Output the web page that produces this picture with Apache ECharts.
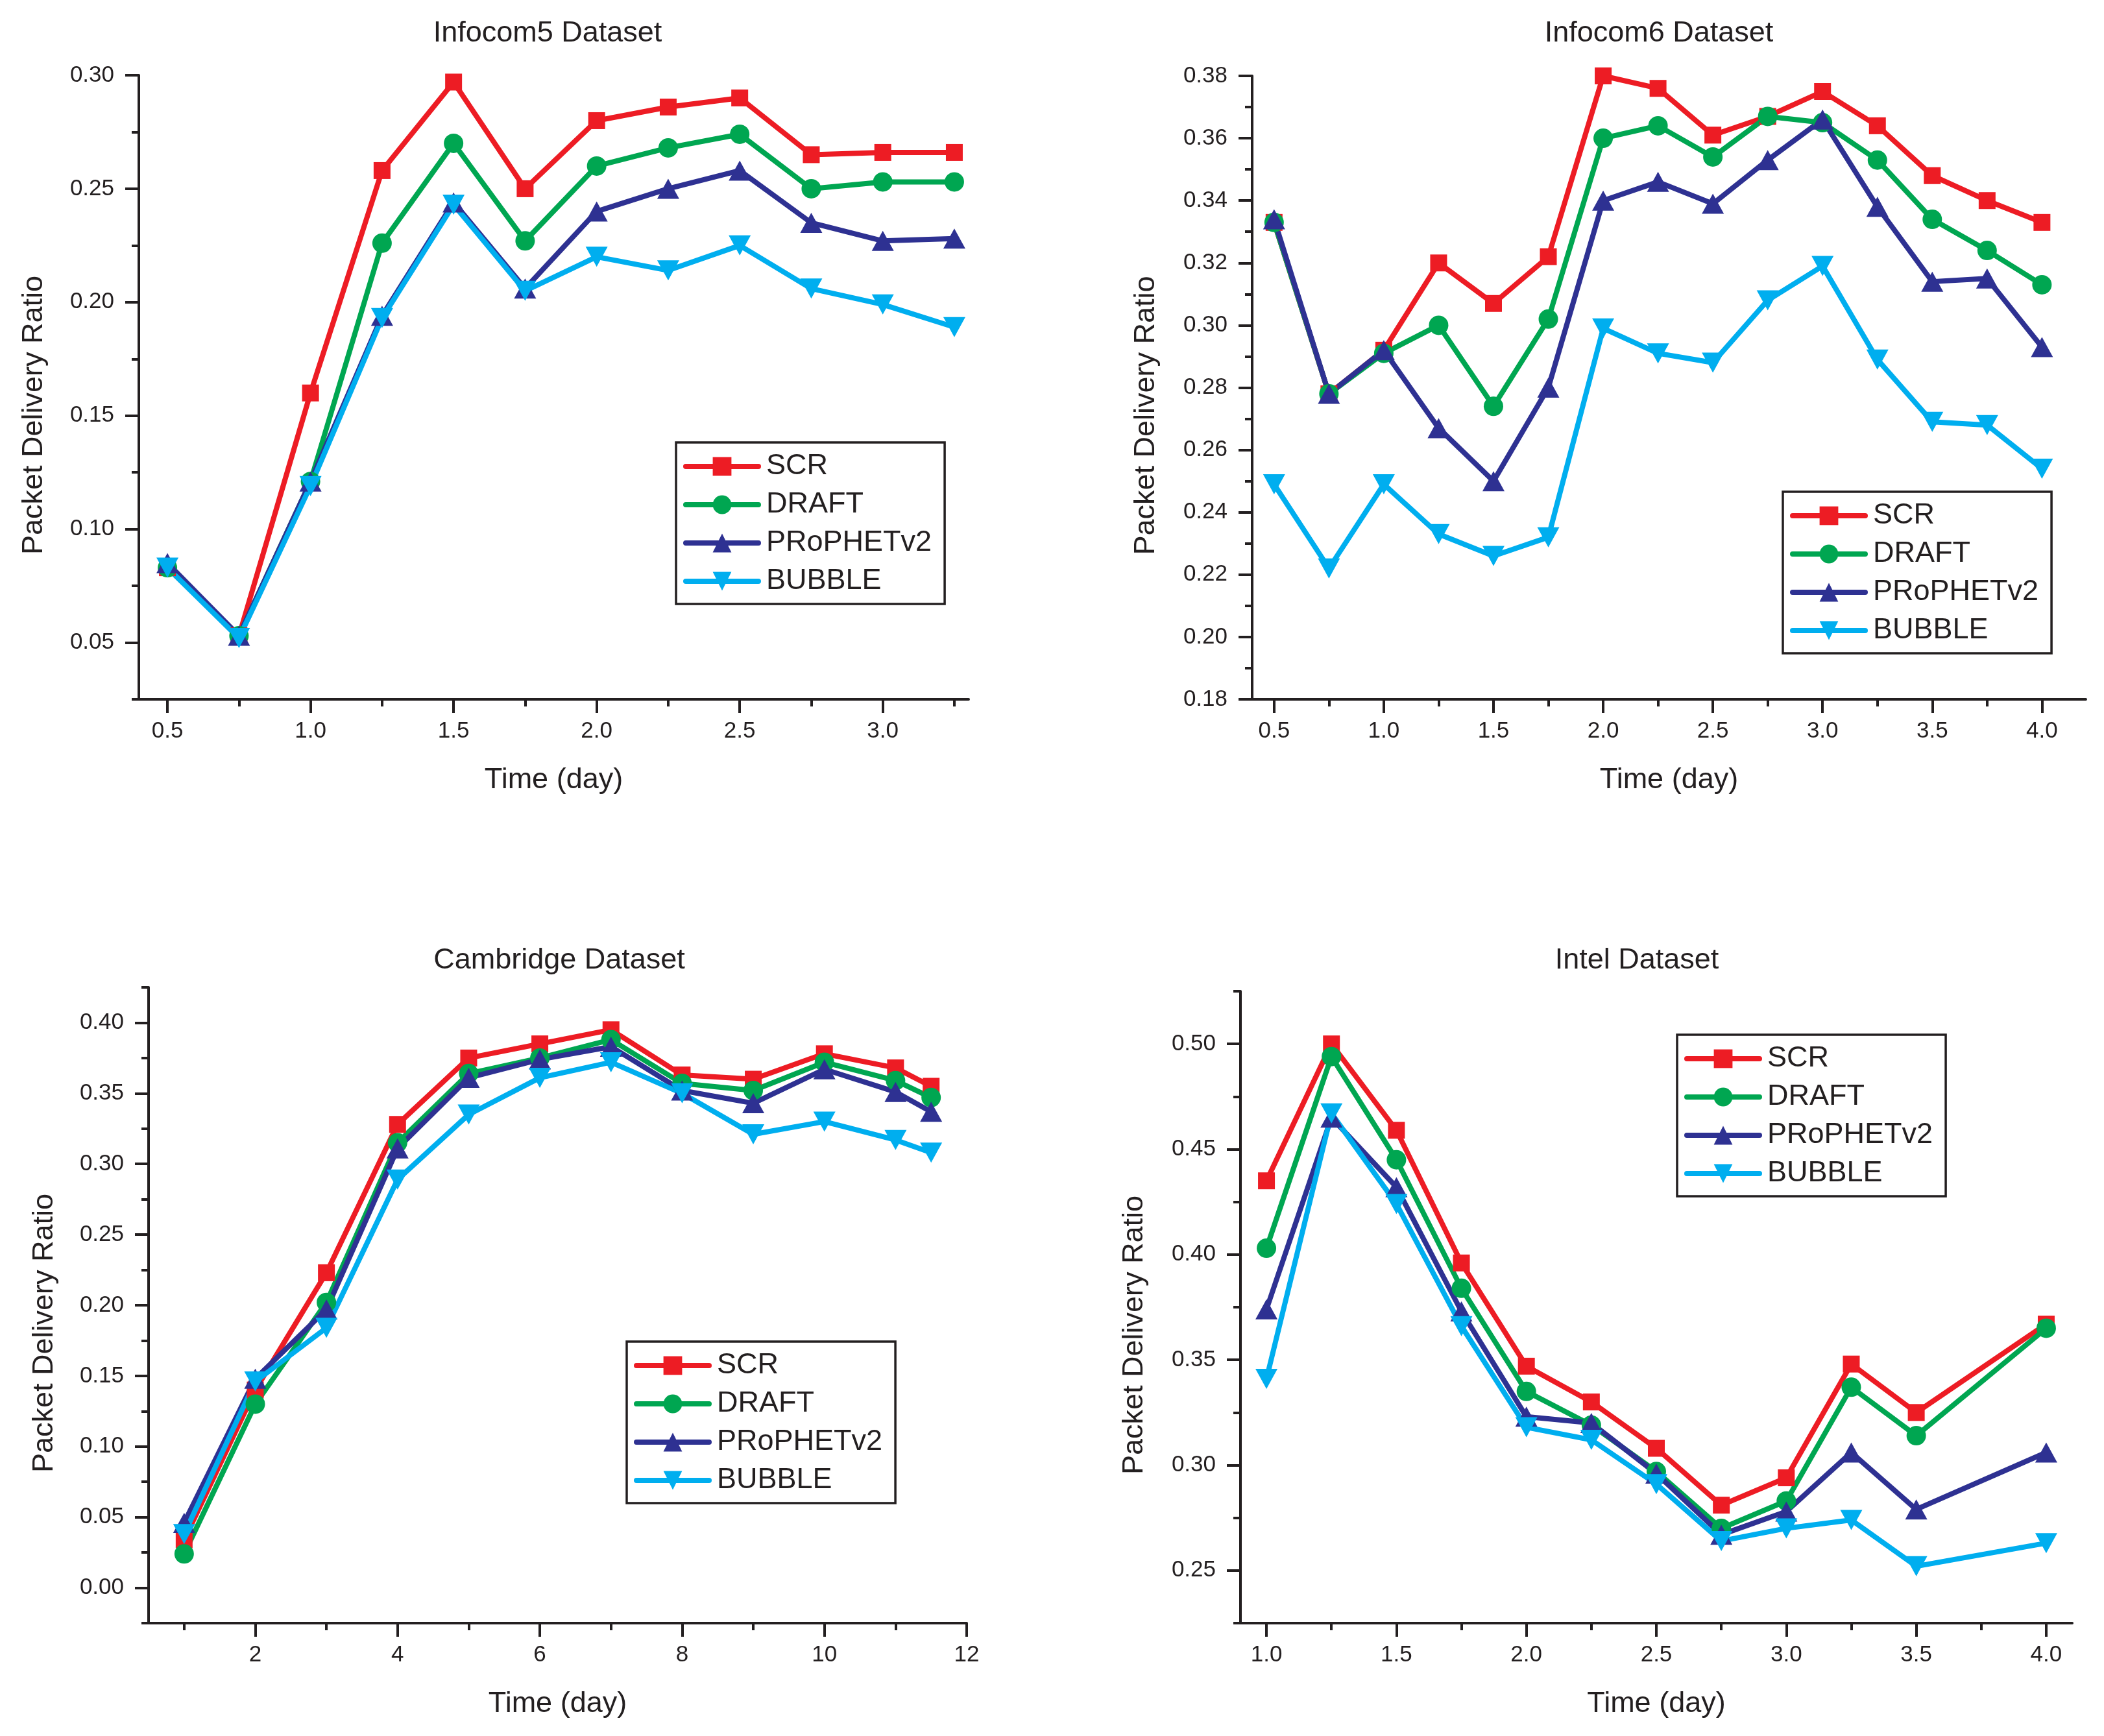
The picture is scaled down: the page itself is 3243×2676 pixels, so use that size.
<!DOCTYPE html>
<html><head><meta charset="utf-8">
<script src="https://cdn.jsdelivr.net/npm/echarts@6/dist/echarts.min.js"></script>
<style>html,body{margin:0;padding:0;background:#fff}#c{width:3243px;height:2676px}</style>
</head><body><div id="c"></div>
<script>
// ---------- data ----------
const seriesNames = ['SCR', 'DRAFT', 'PRoPHETv2', 'BUBBLE'];

// Infocom5
const xInfocom5 = [0.5, 0.75, 1.0, 1.25, 1.5, 1.75, 2.0, 2.25, 2.5, 2.75, 3.0, 3.25];
const scrInfocom5 = [0.083, 0.053, 0.160, 0.258, 0.297, 0.250, 0.280, 0.286, 0.290, 0.265, 0.266, 0.266];
const draftInfocom5 = [0.083, 0.053, 0.121, 0.226, 0.270, 0.227, 0.260, 0.268, 0.274, 0.250, 0.253, 0.253];
const prophetInfocom5 = [0.085, 0.053, 0.121, 0.194, 0.244, 0.206, 0.240, 0.250, 0.258, 0.235, 0.227, 0.228];
const bubbleInfocom5 = [0.083, 0.052, 0.119, 0.193, 0.243, 0.205, 0.220, 0.214, 0.225, 0.206, 0.199, 0.189];

// Infocom6
const xInfocom6 = [0.5, 0.75, 1.0, 1.25, 1.5, 1.75, 2.0, 2.25, 2.5, 2.75, 3.0, 3.25, 3.5, 3.75, 4.0];
const scrInfocom6 = [0.333, 0.278, 0.292, 0.320, 0.307, 0.322, 0.380, 0.376, 0.361, 0.367, 0.375, 0.364, 0.348, 0.340, 0.333];
const draftInfocom6 = [0.333, 0.278, 0.291, 0.300, 0.274, 0.302, 0.360, 0.364, 0.354, 0.367, 0.365, 0.353, 0.334, 0.324, 0.313];
const prophetInfocom6 = [0.334, 0.278, 0.292, 0.267, 0.250, 0.280, 0.340, 0.346, 0.339, 0.353, 0.366, 0.338, 0.314, 0.315, 0.293];
const bubbleInfocom6 = [0.249, 0.222, 0.249, 0.233, 0.226, 0.232, 0.299, 0.291, 0.288, 0.308, 0.319, 0.289, 0.269, 0.268, 0.254];

// Cambridge
const xCambridge = [1, 2, 3, 4, 5, 6, 7, 8, 9, 10, 11, 11.5];
const scrCambridge = [0.034, 0.140, 0.223, 0.328, 0.375, 0.385, 0.395, 0.363, 0.360, 0.378, 0.368, 0.355];
const draftCambridge = [0.024, 0.130, 0.202, 0.315, 0.364, 0.375, 0.388, 0.357, 0.352, 0.372, 0.359, 0.347];
const prophetCambridge = [0.046, 0.148, 0.197, 0.311, 0.361, 0.374, 0.383, 0.352, 0.343, 0.367, 0.351, 0.337];
const bubbleCambridge = [0.038, 0.146, 0.184, 0.289, 0.335, 0.361, 0.372, 0.350, 0.321, 0.330, 0.317, 0.308];

// Intel
const xIntel = [1.0, 1.25, 1.5, 1.75, 2.0, 2.25, 2.5, 2.75, 3.0, 3.25, 3.5, 4.0];
const scrIntel = [0.435, 0.500, 0.459, 0.396, 0.347, 0.330, 0.308, 0.281, 0.294, 0.348, 0.325, 0.367];
const draftIntel = [0.403, 0.494, 0.445, 0.384, 0.335, 0.319, 0.297, 0.270, 0.283, 0.337, 0.314, 0.365];
const prophetIntel = [0.374, 0.465, 0.432, 0.373, 0.323, 0.320, 0.296, 0.267, 0.278, 0.306, 0.279, 0.306];
const bubbleIntel = [0.341, 0.467, 0.424, 0.366, 0.318, 0.312, 0.291, 0.264, 0.270, 0.274, 0.252, 0.263];

// tick labels / tick positions
const xTicksInfocom5 = [0.5, 1.0, 1.5, 2.0, 2.5, 3.0];
const xMinorInfocom5 = [0.75, 1.25, 1.75, 2.25, 2.75, 3.25];
const yTicksInfocom5 = [0.05, 0.10, 0.15, 0.20, 0.25, 0.30];
const yMinorInfocom5 = [0.025, 0.075, 0.125, 0.175, 0.225, 0.275];

const xTicksInfocom6 = [0.5, 1.0, 1.5, 2.0, 2.5, 3.0, 3.5, 4.0];
const xMinorInfocom6 = [0.75, 1.25, 1.75, 2.25, 2.75, 3.25, 3.75];
const yTicksInfocom6 = [0.18, 0.20, 0.22, 0.24, 0.26, 0.28, 0.30, 0.32, 0.34, 0.36, 0.38];
const yMinorInfocom6 = [0.19, 0.21, 0.23, 0.25, 0.27, 0.29, 0.31, 0.33, 0.35, 0.37];

const xTicksCambridge = [2, 4, 6, 8, 10, 12];
const xMinorCambridge = [1, 3, 5, 7, 9, 11];
const yTicksCambridge = [0.00, 0.05, 0.10, 0.15, 0.20, 0.25, 0.30, 0.35, 0.40];
const yMinorCambridge = [-0.025, 0.025, 0.075, 0.125, 0.175, 0.225, 0.275, 0.325, 0.375, 0.425];

const xTicksIntel = [1.0, 1.5, 2.0, 2.5, 3.0, 3.5, 4.0];
const xMinorIntel = [1.25, 1.75, 2.25, 2.75, 3.25, 3.75];
const yTicksIntel = [0.25, 0.30, 0.35, 0.40, 0.45, 0.50];
const yMinorIntel = [0.225, 0.275, 0.325, 0.375, 0.425, 0.475, 0.525];

// ---------- layout & style ----------
const FONT = '"Liberation Sans", Arial, sans-serif';
const INK = '#231F20';
const styles = [
  { color: '#ED1C24', symbol: 'rect', size: 26, rotate: 0 },
  { color: '#00A651', symbol: 'circle', size: 30, rotate: 0 },
  { color: '#2E3192', symbol: 'triangle', size: [34, 31], rotate: 0 },
  { color: '#00AEEF', symbol: 'triangle', size: [34, 31], rotate: 180 }
];

const panels = [
  { title: 'Infocom5 Dataset', titleX: 844, titleY: 52,
    grid: { left: 214, top: 116, width: 1279, height: 962 },
    xMin: 0.4, xMax: 3.3, yMin: 0.025, yMax: 0.30,
    xT: xTicksInfocom5, xM: xMinorInfocom5, yT: yTicksInfocom5, yM: yMinorInfocom5, xDec: 1,
    x: xInfocom5, ys: [scrInfocom5, draftInfocom5, prophetInfocom5, bubbleInfocom5],
    legend: { left: 1042, top: 682 }, yGap: 139 },
  { title: 'Infocom6 Dataset', titleX: 2557, titleY: 52,
    grid: { left: 1930, top: 117, width: 1285, height: 961 },
    xMin: 0.4, xMax: 4.2, yMin: 0.18, yMax: 0.38,
    xT: xTicksInfocom6, xM: xMinorInfocom6, yT: yTicksInfocom6, yM: yMinorInfocom6, xDec: 1,
    x: xInfocom6, ys: [scrInfocom6, draftInfocom6, prophetInfocom6, bubbleInfocom6],
    legend: { left: 2748, top: 758 }, yGap: 141 },
  { title: 'Cambridge Dataset', titleX: 862, titleY: 1481,
    grid: { left: 229, top: 1522, width: 1261, height: 980 },
    xMin: 0.5, xMax: 12, yMin: -0.025, yMax: 0.425,
    xT: xTicksCambridge, xM: xMinorCambridge, yT: yTicksCambridge, yM: yMinorCambridge, xDec: 0,
    x: xCambridge, ys: [scrCambridge, draftCambridge, prophetCambridge, bubbleCambridge],
    legend: { left: 966, top: 2068 }, yGap: 138 },
  { title: 'Intel Dataset', titleX: 2523, titleY: 1481,
    grid: { left: 1912, top: 1528, width: 1282, height: 974 },
    xMin: 0.9, xMax: 4.1, yMin: 0.225, yMax: 0.525,
    xT: xTicksIntel, xM: xMinorIntel, yT: yTicksIntel, yM: yMinorIntel, xDec: 1,
    x: xIntel, ys: [scrIntel, draftIntel, prophetIntel, bubbleIntel],
    legend: { left: 2585, top: 1595 }, yGap: 141 }
];

const grids = [], xAxes = [], yAxes = [], series = [], titles = [], legends = [];

panels.forEach((p, i) => {
  grids.push(Object.assign({ containLabel: false }, p.grid));
  titles.push({
    text: p.title, left: p.titleX, top: p.titleY, textAlign: 'center', textVerticalAlign: 'middle',
    padding: 0, textStyle: { fontFamily: FONT, fontSize: 45, fontWeight: 'normal', color: INK }
  });
  const dec = p.xDec;
  xAxes.push({
    type: 'value', gridIndex: i, min: p.xMin, max: p.xMax, position: 'bottom',
    name: 'Time (day)', nameLocation: 'middle', nameGap: 102,
    nameTextStyle: { fontFamily: FONT, fontSize: 45, color: INK },
    axisLine: { show: true, onZero: false, lineStyle: { color: INK, width: 4 } },
    axisTick: { show: true, inside: false, length: 21, lineStyle: { color: INK, width: 4 }, customValues: p.xT },
    axisLabel: { show: true, margin: 32, fontFamily: FONT, fontSize: 35, color: INK,
      customValues: p.xT, formatter: v => Number(v).toFixed(dec) },
    splitLine: { show: false }
  });
  xAxes.push({
    type: 'value', gridIndex: i, min: p.xMin, max: p.xMax, position: 'bottom', offset: 0,
    axisLine: { show: false, onZero: false },
    axisTick: { show: true, inside: false, length: 11, lineStyle: { color: INK, width: 4 }, customValues: p.xM },
    axisLabel: { show: false }, splitLine: { show: false }
  });
  yAxes.push({
    type: 'value', gridIndex: i, min: p.yMin, max: p.yMax, position: 'left',
    name: 'Packet Delivery Ratio', nameLocation: 'middle', nameGap: p.yGap,
    nameTextStyle: { fontFamily: FONT, fontSize: 45, color: INK, padding: [0, 86, 0, 0] },
    axisLine: { show: true, onZero: false, lineStyle: { color: INK, width: 4 } },
    axisTick: { show: true, inside: false, length: 21, lineStyle: { color: INK, width: 4 }, customValues: p.yT },
    axisLabel: { show: true, margin: 38, fontFamily: FONT, fontSize: 35, color: INK,
      customValues: p.yT, formatter: v => Number(v).toFixed(2) },
    splitLine: { show: false }
  });
  yAxes.push({
    type: 'value', gridIndex: i, min: p.yMin, max: p.yMax, position: 'left', offset: 0,
    axisLine: { show: false, onZero: false },
    axisTick: { show: true, inside: false, length: 11, lineStyle: { color: INK, width: 4 }, customValues: p.yM },
    axisLabel: { show: false }, splitLine: { show: false }
  });
  p.ys.forEach((ys, k) => {
    const st = styles[k];
    series.push({
      type: 'line', name: seriesNames[k], xAxisIndex: 2 * i, yAxisIndex: 2 * i,
      data: p.x.map((xv, j) => [xv, ys[j]]),
      symbol: st.symbol, symbolSize: st.size, symbolRotate: st.rotate,
      showSymbol: true, showAllSymbol: true, silent: true,
      lineStyle: { color: st.color, width: 8 },
      itemStyle: { color: st.color, borderWidth: 0 },
      emphasis: { disabled: true }, animation: false
    });
  });
  legends.push({
    left: p.legend.left, top: p.legend.top, orient: 'vertical', selectedMode: false,
    data: seriesNames, itemWidth: 112, itemHeight: 36, itemGap: 13,
    padding: [14, 20, 12, 11], borderColor: INK, borderWidth: 3.5, backgroundColor: '#fff',
    lineStyle: { width: 8, cap: 'round' },
    textStyle: { fontFamily: FONT, fontSize: 45, color: INK, lineHeight: 46, padding: [0, 0, 0, 7] }
  });
});

const chart = echarts.init(document.getElementById('c'), null,
  { renderer: 'canvas', width: 3243, height: 2676, devicePixelRatio: 1 });
chart.setOption({
  backgroundColor: '#fff', animation: false,
  title: titles, grid: grids, xAxis: xAxes, yAxis: yAxes, legend: legends, series: series
});
</script></body></html>
